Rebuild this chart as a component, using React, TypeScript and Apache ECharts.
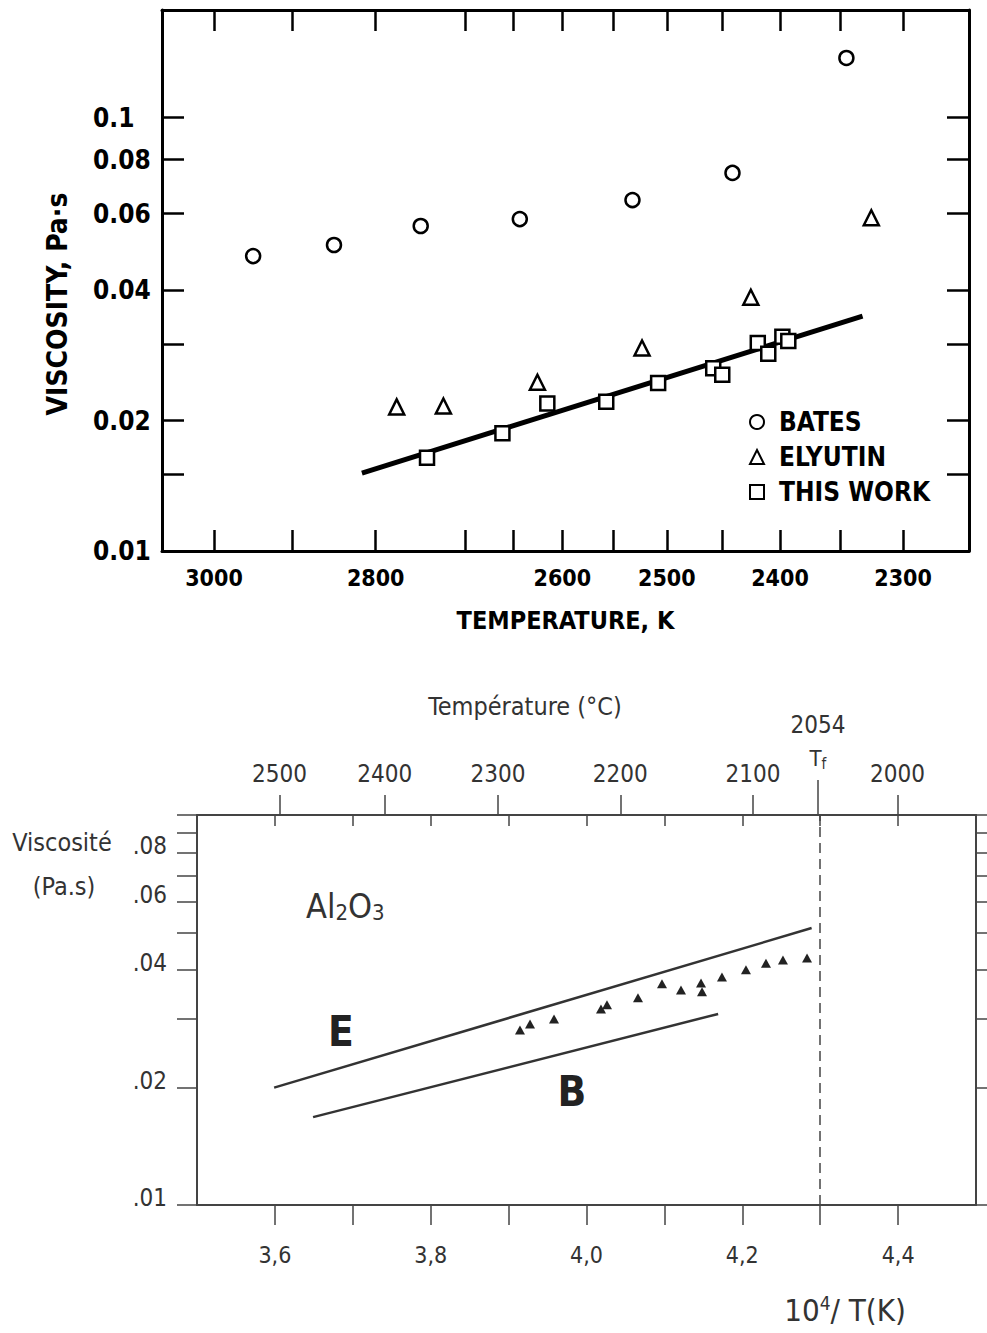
import React, { useEffect, useRef } from 'react';
import * as echarts from 'echarts';

// ---------- Top panel: viscosity (Pa·s) vs temperature (K) ----------
const batesT = [2949, 2849, 2749, 2643, 2532, 2441, 2345];
const batesV = [0.0479, 0.0508, 0.0562, 0.0583, 0.0645, 0.0745, 0.1372];
const elyutinT = [2776, 2724, 2625, 2523, 2425, 2325];
const elyutinV = [0.0215, 0.0216, 0.0245, 0.0294, 0.0385, 0.0587];
const thisWorkT = [2742, 2661, 2615, 2557, 2508, 2458, 2450, 2419, 2410, 2398, 2393];
const thisWorkV = [0.0164, 0.0187, 0.0219, 0.0221, 0.0244, 0.0264, 0.0255, 0.0302, 0.0285, 0.0312, 0.0305];
const fitT = [2816, 2332];
const fitV = [0.01513, 0.0348];
const topTempTicks = [3000, 2900, 2800, 2700, 2650, 2600, 2550, 2500, 2450, 2400, 2350, 2300];
const topTempLabels = [3000, 2800, 2600, 2500, 2400, 2300];
const topViscTicks = [0.015, 0.02, 0.03, 0.04, 0.06, 0.08, 0.1];
const topViscLabels = [0.01, 0.02, 0.04, 0.06, 0.08, 0.1];

// ---------- Bottom panel: Al2O3 viscosity vs 10^4/T(K) ----------
const triInvT = [3.9146, 3.9275, 3.9583, 4.0186, 4.0263, 4.0661, 4.0969, 4.1213, 4.147, 4.1483, 4.1739, 4.2047, 4.2304, 4.2522, 4.2831];
const triV = [0.0281, 0.0291, 0.03, 0.0318, 0.0326, 0.034, 0.0369, 0.0356, 0.0371, 0.0352, 0.0384, 0.0401, 0.0417, 0.0425, 0.043];
const lineE_invT = [3.599, 4.289];
const lineE_V = [0.02, 0.0513];
const lineB_invT = [3.649, 4.169];
const lineB_V = [0.0168, 0.0309];
const lowInvTicks = [3.6, 3.7, 3.8, 3.9, 4.0, 4.1, 4.2, 4.3, 4.4];
const lowInvLabels = [3.6, 3.8, 4.0, 4.2, 4.4];
const celsiusTicks = [2500, 2400, 2300, 2200, 2100, 2000];
const meltingC = 2054;
const lowViscTicks = [0.01, 0.02, 0.03, 0.04, 0.05, 0.06, 0.07, 0.08, 0.09, 0.1];
const lowViscLabels = [0.01, 0.02, 0.04, 0.06, 0.08];

const NARROW = '"Liberation Sans Narrow", "DejaVu Sans Condensed", "Arial Narrow", sans-serif';
const lg = (v: number) => Math.log10(v);
const inv = (t: number) => 1e4 / t;
const cToInv = (c: number) => 1e4 / (c + 273.15);

export default function App() {
  const ref = useRef<HTMLDivElement>(null);

  useEffect(() => {
    if (!ref.current) return;
    const chart = echarts.init(ref.current, undefined, { renderer: 'svg' });

    const topAxisLine = { show: true, lineStyle: { color: '#000', width: 3 } };
    const lowAxisLine = { show: true, lineStyle: { color: '#444', width: 2 } };
    const topTickStyle = { color: '#000', width: 2.5 };
    const lowTickStyle = { color: '#444', width: 1.5 };
    const topLabelFont = { fontFamily: NARROW, fontWeight: 'bold' as const, fontSize: 26, color: '#000' };
    const lowLabelFont = { fontFamily: NARROW, fontWeight: 'normal' as const, fontSize: 24, color: '#333' };

    const option: any = {
      animation: false,
      backgroundColor: '#fff',
      grid: [
        { left: 162, top: 10, width: 807, height: 541 },
        { left: 197, top: 815, width: 779, height: 390 },
      ],
      legend: {
        data: ['BATES', 'ELYUTIN', 'THIS WORK'],
        orient: 'vertical',
        left: 744,
        top: 403,
        itemWidth: 14,
        itemHeight: 14,
        itemGap: 7,
        selectedMode: false,
        textStyle: { fontFamily: NARROW, fontWeight: 'bold', fontSize: 26, color: '#000', lineHeight: 28, padding: [0, 0, 0, 10] },
      },
      xAxis: [
        {
          gridIndex: 0, type: 'value', position: 'bottom', min: 3.2568, max: 4.4449,
          axisLine: topAxisLine,
          axisTick: { show: true, inside: true, length: 21, lineStyle: topTickStyle, customValues: topTempTicks.map(inv) },
          axisLabel: { ...topLabelFont, fontSize: 23, margin: 15, customValues: topTempLabels.map(inv), formatter: (v: number) => String(Math.round(1e4 / v)) },
          splitLine: { show: false },
          name: 'TEMPERATURE, K', nameLocation: 'middle', nameGap: 57,
          nameTextStyle: { fontFamily: NARROW, fontWeight: 'bold', fontSize: 25, color: '#000' },
        },
        {
          gridIndex: 0, type: 'value', position: 'top', min: 3.2568, max: 4.4449,
          axisLine: topAxisLine,
          axisTick: { show: true, inside: true, length: 21, lineStyle: topTickStyle, customValues: topTempTicks.map(inv) },
          axisLabel: { show: false },
          splitLine: { show: false },
        },
        {
          gridIndex: 1, type: 'value', position: 'bottom', min: 3.5, max: 4.5,
          axisLine: lowAxisLine,
          axisTick: { show: true, inside: false, length: 20, lineStyle: lowTickStyle, customValues: lowInvTicks },
          axisLabel: { ...lowLabelFont, fontSize: 23, margin: 38, customValues: lowInvLabels, formatter: (v: number) => v.toFixed(1).replace('.', ',') },
          splitLine: { show: false },
        },
        {
          gridIndex: 1, type: 'value', position: 'top', min: 3.5, max: 4.5,
          axisLine: lowAxisLine,
          axisTick: { show: true, inside: false, length: 20, lineStyle: lowTickStyle, customValues: celsiusTicks.map(cToInv) },
          axisLabel: { ...lowLabelFont, margin: 29, customValues: celsiusTicks.map(cToInv), formatter: (v: number) => String(Math.round(1e4 / v - 273.15)) },
          splitLine: { show: false },
        },
        {
          gridIndex: 1, type: 'value', position: 'top', min: 3.5, max: 4.5,
          axisLine: { show: false },
          axisTick: { show: true, inside: true, length: 11, lineStyle: lowTickStyle, customValues: lowInvTicks },
          axisLabel: { show: false },
          splitLine: { show: false },
        },
        {
          gridIndex: 1, type: 'value', position: 'top', min: 3.5, max: 4.5,
          axisLine: { show: false },
          axisTick: { show: true, inside: false, length: 35, lineStyle: lowTickStyle, customValues: [cToInv(meltingC)] },
          axisLabel: {
            ...lowLabelFont, margin: 44, customValues: [cToInv(meltingC)],
            formatter: (v: number) => '{a|' + Math.round(1e4 / v - 273.15) + '}\n{b|T}{c|f}',
            rich: {
              a: { fontFamily: NARROW, fontSize: 24, color: '#333', lineHeight: 40 },
              b: { fontFamily: NARROW, fontSize: 22, color: '#333', lineHeight: 26 },
              c: { fontFamily: NARROW, fontSize: 15, color: '#333', lineHeight: 14, verticalAlign: 'bottom' },
            },
          },
          splitLine: { show: false },
        },
      ],
      yAxis: [
        {
          gridIndex: 0, type: 'value', position: 'left', min: -2, max: -0.752,
          axisLine: topAxisLine,
          axisTick: { show: true, inside: true, length: 22, lineStyle: topTickStyle, customValues: topViscTicks.map(lg) },
          axisLabel: { ...topLabelFont, align: 'left', margin: 69, customValues: topViscLabels.map(lg), formatter: (v: number) => String(parseFloat(Math.pow(10, v).toPrecision(3))) },
          splitLine: { show: false },
        },
        {
          gridIndex: 0, type: 'value', position: 'right', min: -2, max: -0.752,
          axisLine: topAxisLine,
          axisTick: { show: true, inside: true, length: 22, lineStyle: topTickStyle, customValues: topViscTicks.map(lg) },
          axisLabel: { show: false },
          splitLine: { show: false },
        },
        {
          gridIndex: 1, type: 'value', position: 'left', min: -2, max: -1,
          axisLine: lowAxisLine,
          axisTick: { show: true, inside: false, length: 20, lineStyle: lowTickStyle, customValues: lowViscTicks.map(lg) },
          axisLabel: {
            ...lowLabelFont, margin: 30, verticalAlign: 'bottom', lineHeight: 14, customValues: lowViscLabels.map(lg),
            formatter: (v: number) => '.' + String(Math.round(Math.pow(10, v) * 100)).padStart(2, '0'),
          },
          splitLine: { show: false },
        },
        {
          gridIndex: 1, type: 'value', position: 'right', min: -2, max: -1,
          axisLine: lowAxisLine,
          axisTick: { show: true, inside: false, length: 12, lineStyle: lowTickStyle, customValues: lowViscTicks.map(lg) },
          axisLabel: { show: false },
          splitLine: { show: false },
        },
      ],
      series: [
        {
          type: 'line', name: 'fit', xAxisIndex: 0, yAxisIndex: 0, z: 2,
          data: fitT.map((t, i) => [inv(t), lg(fitV[i])]),
          symbol: 'none', lineStyle: { color: '#000', width: 5 },
        },
        {
          type: 'scatter', name: 'BATES', xAxisIndex: 0, yAxisIndex: 0, z: 3,
          data: batesT.map((t, i) => [inv(t), lg(batesV[i])]),
          symbol: 'circle', symbolSize: 14,
          itemStyle: { color: '#fff', borderColor: '#000', borderWidth: 2.5, opacity: 1 },
        },
        {
          type: 'scatter', name: 'ELYUTIN', xAxisIndex: 0, yAxisIndex: 0, z: 3,
          data: elyutinT.map((t, i) => [inv(t), lg(elyutinV[i])]),
          symbol: 'triangle', symbolSize: 15,
          itemStyle: { color: '#fff', borderColor: '#000', borderWidth: 2.5, opacity: 1 },
        },
        {
          type: 'scatter', name: 'THIS WORK', xAxisIndex: 0, yAxisIndex: 0, z: 3,
          data: thisWorkT.map((t, i) => [inv(t), lg(thisWorkV[i])]),
          symbol: 'rect', symbolSize: 14,
          itemStyle: { color: '#fff', borderColor: '#000', borderWidth: 2.5, opacity: 1 },
        },
        {
          type: 'line', name: 'E', xAxisIndex: 2, yAxisIndex: 2,
          data: lineE_invT.map((x, i) => [x, lg(lineE_V[i])]),
          symbol: 'none', lineStyle: { color: '#333', width: 2.5 },
        },
        {
          type: 'line', name: 'B', xAxisIndex: 2, yAxisIndex: 2,
          data: lineB_invT.map((x, i) => [x, lg(lineB_V[i])]),
          symbol: 'none', lineStyle: { color: '#333', width: 2.5 },
        },
        {
          type: 'scatter', name: 'Al2O3 data', xAxisIndex: 2, yAxisIndex: 2,
          data: triInvT.map((x, i) => [x, lg(triV[i])]),
          symbol: 'triangle', symbolSize: [10, 9],
          itemStyle: { color: '#222', opacity: 1 },
          markLine: {
            silent: true, symbol: ['none', 'none'], label: { show: false },
            lineStyle: { color: '#444', type: [10, 6], width: 1.5 },
            data: [{ xAxis: cToInv(meltingC) }],
          },
        },
      ],
      graphic: [
        {
          type: 'text', x: 57, y: 304, rotation: Math.PI / 2,
          style: { text: 'VISCOSITY, Pa·s', fontFamily: NARROW, fontWeight: 'bold', fontSize: 28, fill: '#000', align: 'center', verticalAlign: 'middle' },
        },
        {
          type: 'text', x: 525, y: 706,
          style: { text: 'Température (°C)', fontFamily: NARROW, fontSize: 25, fill: '#333', align: 'center', verticalAlign: 'middle' },
        },
        {
          type: 'text', x: 62, y: 842,
          style: { text: 'Viscosité', fontFamily: NARROW, fontSize: 25, fill: '#333', align: 'center', verticalAlign: 'middle' },
        },
        {
          type: 'text', x: 64, y: 886,
          style: { text: '(Pa.s)', fontFamily: NARROW, fontSize: 25, fill: '#333', align: 'center', verticalAlign: 'middle' },
        },
        {
          type: 'text', x: 306, y: 906,
          style: {
            text: '{n|Al}{s|2}{n|O}{s|3}', align: 'left', verticalAlign: 'middle',
            rich: {
              n: { fontFamily: NARROW, fontSize: 34, fill: '#333', color: '#333', lineHeight: 34 },
              s: { fontFamily: NARROW, fontSize: 22, fill: '#333', color: '#333', lineHeight: 16, verticalAlign: 'bottom' },
            },
          },
        },
        {
          type: 'text', x: 341, y: 1031,
          style: { text: 'E', fontFamily: NARROW, fontWeight: 'bold', fontSize: 42, fill: '#222', align: 'center', verticalAlign: 'middle' },
        },
        {
          type: 'text', x: 572, y: 1091,
          style: { text: 'B', fontFamily: NARROW, fontWeight: 'bold', fontSize: 42, fill: '#222', align: 'center', verticalAlign: 'middle' },
        },
        {
          type: 'text', x: 845, y: 1310,
          style: {
            text: '{n|10}{s|4}{n|/ T(K)}', align: 'center', verticalAlign: 'middle',
            rich: {
              n: { fontFamily: NARROW, fontSize: 31, fill: '#333', color: '#333', lineHeight: 34 },
              s: { fontFamily: NARROW, fontSize: 19, fill: '#333', color: '#333', lineHeight: 16, verticalAlign: 'top' },
            },
          },
        },
      ],
    };

    chart.setOption(option);
    return () => chart.dispose();
  }, []);

  return <div ref={ref} style={{ position: 'absolute', left: 0, top: 0, width: 987, height: 1333, background: '#fff' }} />;
}
